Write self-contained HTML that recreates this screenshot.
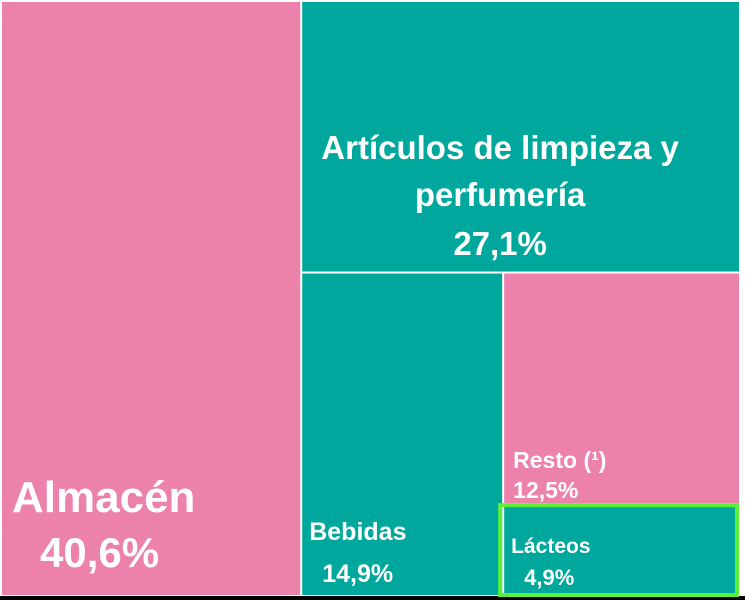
<!DOCTYPE html>
<html><head><meta charset="utf-8"><style>
body{margin:0;background:#fff;width:745px;height:600px;overflow:hidden}
svg{display:block}
text{font-family:"Liberation Sans",sans-serif;font-weight:bold;fill:#fff}
</style></head><body>
<svg id="chart" width="745" height="600" viewBox="0 0 745 600">
<rect x="0" y="596" width="745" height="4" fill="#000"/>
<g id="tiles"></g>
</svg>
<script>
const categories=["Almacén","Artículos de limpieza y perfumería","Bebidas","Resto (¹)","Lácteos"];
const values=[40.6,27.1,14.9,12.5,4.9];
const valueLabels=["40,6%","27,1%","14,9%","12,5%","4,9%"];
const colors=["#EC82AB","#00A79D","#00A79D","#EC82AB","#00A79D"];
const NS="http://www.w3.org/2000/svg";
const X0=2,Y0=2,X1=739,Y1=595,G=2;
const total=values.reduce((a,b)=>a+b,0);
const rects=[];
let x=X0,y=Y0,w=X1-X0,h=Y1-Y0,rem=total;
let horiz=true;
for(let i=0;i<values.length;i++){
  if(i===values.length-1){rects.push([x,y,w,h]);break;}
  const f=values[i]/rem;
  if(horiz){const ww=w*f;rects.push([x,y,ww,h]);x+=ww;w-=ww;}
  else{const hh=h*f;rects.push([x,y,w,hh]);y+=hh;h-=hh;}
  rem-=values[i];horiz=!horiz;
}
const g=document.getElementById('tiles');
rects.forEach((r,i)=>{
  const el=document.createElementNS(NS,'rect');
  el.setAttribute('x',r[0]+(r[0]>X0?G/2:0));
  el.setAttribute('y',r[1]+(r[1]>Y0?G/2:0));
  el.setAttribute('width',r[2]-(r[0]>X0?G/2:0)-(r[0]+r[2]<X1-1?G/2:0));
  el.setAttribute('height',r[3]-(r[1]>Y0?G/2:0)-(r[1]+r[3]<Y1-1?G/2:0));
  el.setAttribute('fill',colors[i]);
  
  
  g.appendChild(el);
});
const last=rects[rects.length-1];
const hb=document.createElementNS(NS,'rect');
hb.setAttribute('x',last[0]-3);hb.setAttribute('y',last[1]+1);
hb.setAttribute('width',last[2]+1);hb.setAttribute('height',last[3]-1);
hb.setAttribute('fill','none');hb.setAttribute('stroke','#5CF03A');hb.setAttribute('stroke-width','4');


g.appendChild(hb);
function txt(s,x,y,size,anchor,name){
  const t=document.createElementNS(NS,'text');
  t.setAttribute('x',x);t.setAttribute('y',y);t.setAttribute('font-size',size);
  if(anchor)t.setAttribute('text-anchor',anchor);
  t.textContent=s;
  
  
  g.appendChild(t);
}
const r0=rects[0],r1=rects[1],r2=rects[2],r3=rects[3],r4=rects[4];
txt(categories[0],r0[0]+10,r0[1]+r0[3]-83,44,null,'label-almacen');
txt(valueLabels[0],r0[0]+38,r0[1]+r0[3]-28,42,null,'value-almacen');
const cx=r1[0]+r1[2]/2-20;
txt("Artículos de limpieza y",cx,r1[1]+157,33,'middle','label-articulos-1');
txt("perfumería",cx,r1[1]+204,33,'middle','label-articulos-2');
txt(valueLabels[1],cx,r1[1]+253,33,'middle','value-articulos');
txt(categories[2],r2[0]+8,r2[1]+r2[3]-55,25,null,'label-bebidas');
txt(valueLabels[2],r2[0]+21,r2[1]+r2[3]-13,25,null,'value-bebidas');
txt(categories[3],r3[0]+10,r3[1]+r3[3]-36,23,null,'label-resto');
txt(valueLabels[3],r3[0]+10,r3[1]+r3[3]-6,23,null,'value-resto');
txt(categories[4],r4[0]+8,r4[1]+49,21,null,'label-lacteos');
txt(valueLabels[4],r4[0]+21,r4[1]+81,22,null,'value-lacteos');
</script>
</body></html>
